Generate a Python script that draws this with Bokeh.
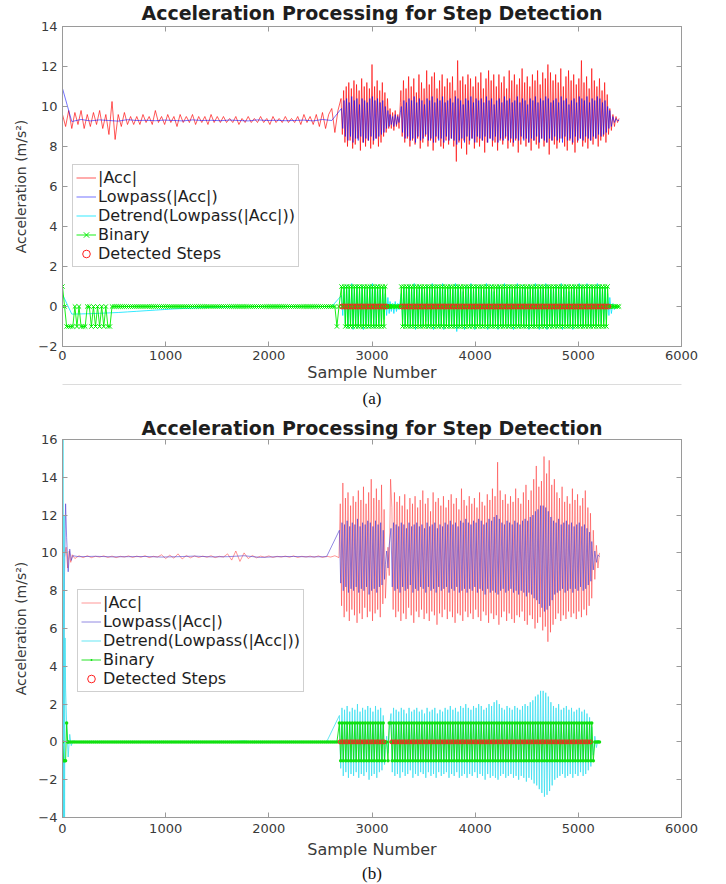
import numpy as np
from bokeh.plotting import figure
from bokeh.models import LinearAxis, Legend, LegendItem, FixedTicker, Range1d
from bokeh.layouts import column
from bokeh.embed import file_html
from bokeh.resources import INLINE

# ---------------- data ----------------
x_ticks = [0, 1000, 2000, 3000, 4000, 5000, 6000]
y_ticks_a = [-2, 0, 2, 4, 6, 8, 10, 12, 14]
y_ticks_b = [-4, -2, 0, 2, 4, 6, 8, 10, 12, 14, 16]
labels = ["|Acc|", "Lowpass(|Acc|)", "Detrend(Lowpass(|Acc|))", "Binary", "Detected Steps"]

# ---- panel (a) ----
# standing part, |Acc| every 30 samples from 0
acc_a_rest = [9.6, 9.0, 9.8, 8.9, 9.7, 9.1, 9.8, 8.9, 9.6, 9.0, 9.7, 9.1, 9.8, 8.9, 9.6, 8.6, 10.25, 8.35, 9.6, 9.0, 9.7, 9.1, 9.5, 9.1,
              9.5, 9.1, 9.6, 9.2, 9.5, 9.1, 9.8, 9.2, 9.5, 9.1, 9.6, 9.2, 9.5, 9.0, 9.6, 9.2, 9.5, 9.2, 9.6, 9.1, 9.5, 9.2, 9.5, 9.1, 9.6, 9.2, 9.5,
              9.2, 9.5, 9.2, 9.4, 9.2, 9.5, 9.1, 9.4, 9.2, 9.5, 9.2, 9.4, 9.2, 9.5, 9.2, 9.4, 9.1, 9.5, 9.2, 9.4, 9.2, 9.5, 9.2, 9.4, 9.2, 9.5, 9.1, 9.6, 9.2, 9.5,
              9.1, 9.6, 9.0, 9.7, 8.9, 9.6, 9.9, 8.7, 9.8]
# lowpass and detrend every 90 samples from 0
low_a_rest = [10.9, 9.25, 9.35, 9.28, 9.33, 9.3, 9.27, 9.34, 9.3, 9.31, 9.29, 9.32, 9.3, 9.28, 9.33,
              9.3, 9.31, 9.29, 9.32, 9.3, 9.28, 9.33, 9.3, 9.31, 9.29, 9.3, 9.32, 9.28, 9.35, 9.3]
det_a_rest = [0.6, -0.38, -0.37, -0.36, -0.34, -0.32, -0.30, -0.27, -0.24, -0.21, -0.18, -0.15, -0.12, -0.10, -0.08,
              -0.06, -0.04, -0.03, -0.02, -0.01, 0.0, 0.0, 0.0, 0.0, 0.0, 0.0, 0.0, 0.0, 0.0, 0.0]
# binary at start, every 20 samples from 0 (then 0 until the -1 blip at 2660)
bin_a_start = [1, 0, -1, -1, -1, -1, 0, -1, 0, -1, -1, -1, 0, 0, -1, 0, -1, 0, -1, 0, -1, 0, -1, -1, 0]
bin_a_blip = [-1, 0]
trend_a = 9.35
# walking: (first step sample, samples per step, steps)
walk_a = [(2700, 25, 19), (3280, 25, 81)]
acc_a_peaks = [
    [10.4, 10.8, 11.0, 11.2, 10.9, 11.3, 11.1, 10.8, 11.4, 11.0, 11.2, 10.9, 12.1, 11.0, 11.3, 10.8, 11.2, 10.7, 10.4],
    [10.8, 11.3, 10.9, 11.5, 11.0, 11.4, 10.7, 11.6, 11.2, 10.9,
     11.8, 11.1, 11.5, 11.7, 10.9, 11.3, 11.6, 11.0, 11.4, 11.2,
     11.5, 10.8, 12.3, 11.3, 11.5, 11.1, 11.6, 11.4, 11.0, 11.5,
     11.2, 11.7, 10.9, 11.4, 11.8, 11.3, 11.6, 11.0, 11.6, 11.2,
     11.5, 10.9, 11.8, 11.3, 11.6, 11.1, 11.4, 11.9, 11.2, 11.5,
     11.0, 11.6, 11.3, 11.8, 11.1, 11.7, 11.4, 12.1, 11.7, 11.3,
     11.6, 11.2, 11.9, 11.0, 11.5, 11.8, 11.3, 11.6, 11.1, 11.4,
     12.3, 11.2, 11.5, 10.9, 11.9, 11.3, 11.0, 11.4, 10.8, 11.2, 10.6]]
acc_a_troughs = [
    [8.6, 8.2, 8.0, 8.3, 7.9, 8.1, 8.4, 7.8, 8.2, 8.0, 8.3, 7.9, 8.1, 8.4, 8.0, 8.2, 8.5, 8.7, 8.9],
    [8.5, 8.2, 8.4, 8.0, 8.3, 8.1, 8.4, 7.9, 8.2, 8.5,
     8.0, 8.3, 7.8, 8.2, 8.4, 8.0, 7.9, 8.3, 8.1, 8.4,
     8.0, 7.25, 8.2, 7.9, 8.3, 7.6, 8.1, 8.4, 7.9, 8.2,
     8.0, 8.3, 7.7, 8.2, 8.4, 8.0, 8.2, 7.8, 8.3, 8.1,
     8.4, 7.9, 8.2, 8.0, 8.3, 7.7, 8.1, 8.4, 8.0, 8.2,
     7.8, 8.3, 8.1, 7.9, 8.4, 8.0, 8.2, 7.6, 8.3, 8.1,
     7.9, 8.2, 8.4, 8.0, 7.8, 8.3, 8.1, 7.7, 8.2, 8.4,
     8.0, 8.2, 7.9, 8.3, 8.1, 8.4, 8.0, 8.3, 8.5, 8.2, 8.6]]
low_a_peaks = [
    [9.9, 10.3, 10.4, 10.2, 10.5, 10.3, 10.4, 10.1, 10.4, 10.3, 10.2, 10.4, 10.5, 10.3, 10.4, 10.2, 10.3, 10.0, 9.8],
    [10.0, 10.3, 10.2, 10.4, 10.3, 10.5, 10.2, 10.4, 10.3, 10.1,
     10.4, 10.3, 10.5, 10.2, 10.4, 10.3, 10.5, 10.2, 10.3, 10.4,
     10.2, 10.5, 10.4, 10.3, 10.1, 10.4, 10.3, 10.5, 10.2, 10.4,
     10.3, 10.4, 10.2, 10.5, 10.3, 10.4, 10.1, 10.3, 10.4, 10.2,
     10.5, 10.3, 10.4, 10.2, 10.3, 10.5, 10.2, 10.4, 10.3, 10.1,
     10.4, 10.3, 10.5, 10.2, 10.4, 10.3, 10.5, 10.4, 10.2, 10.3,
     10.4, 10.2, 10.5, 10.3, 10.4, 10.1, 10.3, 10.4, 10.2, 10.5,
     10.4, 10.3, 10.5, 10.2, 10.4, 10.3, 10.5, 10.4, 10.2, 10.3, 10.0]]
low_a_troughs = [
    [8.9, 8.5, 8.3, 8.5, 8.2, 8.4, 8.3, 8.5, 8.2, 8.4, 8.3, 8.5, 8.3, 8.4, 8.5, 8.6, 8.7, 8.9, 9.0],
    [8.7, 8.4, 8.5, 8.3, 8.4, 8.2, 8.5, 8.3, 8.4, 8.6,
     8.3, 8.4, 8.2, 8.5, 8.3, 8.4, 8.2, 8.5, 8.3, 8.4,
     8.3, 8.1, 8.3, 8.4, 8.2, 8.5, 8.3, 8.4, 8.2, 8.5,
     8.4, 8.3, 8.5, 8.2, 8.4, 8.3, 8.5, 8.2, 8.4, 8.3,
     8.5, 8.3, 8.4, 8.2, 8.4, 8.3, 8.5, 8.3, 8.4, 8.2,
     8.4, 8.3, 8.5, 8.2, 8.4, 8.3, 8.2, 8.4, 8.3, 8.5,
     8.3, 8.4, 8.2, 8.5, 8.3, 8.4, 8.2, 8.5, 8.3, 8.4,
     8.3, 8.5, 8.4, 8.3, 8.5, 8.4, 8.6, 8.5, 8.6, 8.7, 8.9]]
pause_a_x = [3175, 3187, 3200, 3212, 3225, 3237, 3250, 3262, 3275]
acc_a_pause = [9.9, 8.9, 9.7, 8.8, 9.8, 9.0, 9.6, 8.9, 10.2]
low_a_pause = [9.6, 9.1, 9.5, 9.0, 9.6, 9.1, 9.5, 9.2, 9.7]
end_a_x = [5305, 5320, 5335, 5350, 5365, 5380, 5395]
acc_a_end = [9.9, 8.8, 9.6, 9.0, 9.5, 9.2, 9.4]
low_a_end = [9.8, 9.0, 9.5, 9.2, 9.4, 9.3, 9.3]

# ---- panel (b) ----
acc_b_start_x = [20, 35, 50, 65, 80, 95]
acc_b_start = [9.8, 10.3, 9.2, 10.1, 9.5, 9.9]
# then every 40 samples from 120
acc_b_rest = [9.7, 9.85, 9.75, 9.85, 9.75, 9.82, 9.78, 9.84, 9.76, 9.83,
              9.75, 9.82, 9.78, 9.84, 9.76, 9.83, 9.77, 9.85, 9.75, 9.82,
              9.78, 9.9, 9.7, 9.88, 9.72, 9.95, 9.68, 9.86, 9.74, 9.84,
              9.76, 9.83, 9.77, 9.85, 9.75, 9.82, 9.78, 9.95, 9.62, 10.1,
              9.55, 10.0, 9.7, 9.86, 9.74, 9.83, 9.77, 9.84, 9.76, 9.82,
              9.78, 9.83, 9.77, 9.84, 9.76, 9.82, 9.78, 9.83, 9.77, 9.84,
              9.76, 9.82, 9.78, 9.85, 9.75]
low_b_start_x = [0, 10, 20, 30, 40, 55, 70, 85, 100]
low_b_start = [0.5, 4.0, 9.0, 12.6, 10.8, 9.0, 10.2, 9.6, 9.85]
# then every 160 samples from 160
low_b_rest = [9.8, 9.82, 9.79, 9.8, 9.81, 9.78, 9.8, 9.83, 9.79, 9.8, 9.85, 9.76, 9.8, 9.81, 9.79, 9.8]
det_b_start_x = [0, 5, 10, 15, 20, 25, 30, 40, 55, 70, 85, 100]
det_b_start = [-9.8, 17.0, -6.0, 12.0, -4.5, 5.5, 2.8, 1.0, -0.8, 0.4, -0.2, 0.05]
bin_b_start_x = [0, 10, 20, 30, 40, 50]
bin_b_start = [0, -1, -1, -1, 1, 0]
trend_b = 9.8
walk_b = [(2680, 25, 18), (3180, 25, 78)]
acc_b_peaks = [
    [12.6, 13.7, 12.9, 13.2, 12.5, 13.0, 12.7, 13.3, 12.8, 13.5, 12.6, 13.2, 13.9, 12.9, 13.4, 12.8, 13.6, 12.3],
    [12.4, 13.2, 12.7, 13.0, 12.5, 13.1, 12.3, 12.9, 12.6, 13.0,
     12.4, 12.8, 13.3, 12.6, 12.9, 12.2, 13.2, 12.7, 12.9, 12.5,
     13.0, 12.4, 12.8, 13.1, 12.6, 12.9, 12.3, 13.4, 12.8, 12.5,
     13.0, 12.6, 12.9, 12.4, 13.2, 12.7, 12.5, 13.1, 12.8, 13.4,
     13.0, 14.8, 13.3, 12.8, 13.1, 12.6, 13.0, 12.7, 13.4, 12.9,
     12.6, 13.2, 13.6, 12.8, 13.3, 13.9, 14.6, 13.5, 13.8, 15.1,
     14.2, 14.9, 13.6, 13.9, 13.2, 12.9, 13.5, 12.7, 13.0, 12.6,
     13.4, 12.8, 13.1, 12.5, 12.9, 13.3, 12.4, 12.1]]
acc_b_troughs = [
    [7.2, 6.6, 6.9, 6.4, 7.0, 6.7, 6.3, 6.8, 6.5, 7.1, 6.6, 6.9, 6.4, 6.8, 7.0, 6.6, 7.3, 7.6],
    [7.0, 6.6, 6.9, 6.4, 6.8, 6.5, 7.1, 6.7, 6.3, 6.9,
     6.6, 7.0, 6.5, 6.8, 6.4, 6.9, 6.7, 6.2, 6.8, 6.6,
     7.0, 6.5, 6.9, 6.6, 6.3, 6.8, 6.7, 6.4, 6.9, 6.6,
     6.8, 6.5, 7.0, 6.6, 6.4, 6.9, 6.7, 6.3, 6.8, 6.5,
     6.7, 6.2, 6.6, 6.9, 6.4, 6.8, 6.5, 6.3, 6.7, 6.6,
     6.9, 6.4, 6.2, 6.7, 6.5, 6.0, 6.3, 6.6, 5.9, 6.1,
     5.3, 5.8, 6.2, 6.5, 6.8, 6.4, 6.7, 6.5, 6.9, 6.6,
     6.8, 6.5, 6.9, 6.6, 7.0, 6.7, 7.2, 7.6]]
low_b_peaks = [
    [11.2, 11.6, 11.5, 11.7, 11.4, 11.6, 11.5, 11.8, 11.4, 11.6, 11.5, 11.7, 11.6, 11.4, 11.7, 11.5, 11.6, 11.2],
    [11.3, 11.6, 11.5, 11.4, 11.6, 11.5, 11.3, 11.6, 11.4, 11.5,
     11.6, 11.4, 11.5, 11.3, 11.6, 11.4, 11.5, 11.6, 11.3, 11.5,
     11.4, 11.6, 11.5, 11.7, 11.5, 11.6, 11.4, 11.7, 11.6, 11.8,
     11.6, 11.5, 11.7, 11.6, 11.8, 11.7, 11.5, 11.6, 11.8, 11.7,
     11.9, 12.0, 11.8, 11.6, 11.5, 11.7, 11.6, 11.5, 11.7, 11.6,
     11.5, 11.7, 11.8, 11.7, 11.9, 12.0, 12.2, 12.3, 12.5, 12.5,
     12.4, 12.2, 11.9, 11.7, 11.6, 11.8, 11.5, 11.6, 11.7, 11.5,
     11.6, 11.4, 11.5, 11.6, 11.4, 11.5, 11.3, 11.1]]
low_b_troughs = [
    [8.4, 8.0, 8.2, 7.9, 8.1, 8.0, 8.2, 7.9, 8.1, 8.0, 8.2, 7.8, 8.0, 8.1, 7.9, 8.2, 8.3, 8.6],
    [8.2, 8.0, 8.1, 7.9, 8.2, 8.0, 8.1, 8.3, 7.9, 8.1,
     8.0, 8.2, 8.1, 7.9, 8.2, 8.0, 8.1, 7.9, 8.2, 8.0,
     8.1, 8.2, 7.9, 8.1, 8.0, 8.2, 7.9, 8.0, 8.1, 7.9,
     8.1, 8.0, 8.2, 7.9, 8.1, 8.0, 7.8, 8.1, 7.9, 8.0,
     7.9, 7.8, 8.0, 8.1, 7.9, 8.0, 8.1, 7.9, 8.0, 7.8,
     8.0, 7.9, 7.7, 7.9, 7.8, 7.6, 7.5, 7.3, 7.1, 6.9,
     7.0, 7.2, 7.5, 7.8, 7.9, 8.0, 8.1, 7.9, 8.0, 8.1,
     7.9, 8.1, 8.0, 8.2, 8.0, 8.1, 8.3, 8.5]]
pause_b_x = [3130, 3142, 3155, 3167]
acc_b_pause = [9.0, 10.3, 8.8, 13.9]
low_b_pause = [9.4, 10.1, 9.2, 10.4]
end_b_x = [5130, 5145, 5160, 5175, 5190, 5205]
acc_b_end = [11.2, 8.6, 10.4, 9.2, 10.0, 9.8]
low_b_end = [10.6, 9.1, 10.1, 9.5, 9.9, 9.8]

# ---------------- helpers ----------------
def walk_xy(seg, peaks, troughs, offset=0.0):
    s, T, n = seg
    xs, ys = [], []
    for i in range(n):
        xs += [s + i * T + offset, s + i * T + T / 2 + offset]
        ys += [peaks[i], troughs[i]]
    return xs, ys

def binary_of(v, thr=0.5):
    return 1 if v > thr else (-1 if v < -thr else 0)

def walk_binary(seg, dpk, dtr, offset=0.0):
    s, T, n = seg
    xs, ys, sx = [], [], []
    for i in range(n):
        xp = s + i * T + offset
        xt = xp + T / 2
        xs += [xp, xp + T / 4, xt, xt + T / 4]
        ys += [binary_of(dpk[i]), 0, binary_of(dtr[i]), 0]
        if binary_of(dpk[i]) == 1:
            sx.append(xp + T / 4)
    return xs, ys, sx

def assemble(rest_x, rest_y, walk, peaks, troughs, pause_x, pause_y, end_x, end_y, offset=0.0):
    x1, y1 = walk_xy(walk[0], peaks[0], troughs[0], offset)
    x2, y2 = walk_xy(walk[1], peaks[1], troughs[1], offset)
    xs = list(rest_x) + x1 + list(pause_x) + x2 + list(end_x)
    ys = list(rest_y) + y1 + list(pause_y) + y2 + list(end_y)
    return xs, ys

# ---------------- series for (a) ----------------
ax_acc, ay_acc = assemble(np.arange(0, 2700, 30), acc_a_rest, walk_a, acc_a_peaks, acc_a_troughs,
                          pause_a_x, acc_a_pause, end_a_x, acc_a_end)
ax_low, ay_low = assemble(np.arange(0, 2700, 90), low_a_rest, walk_a, low_a_peaks, low_a_troughs,
                          pause_a_x, low_a_pause, end_a_x, low_a_end, offset=4)
det_a_pk = [[v - trend_a for v in seg] for seg in low_a_peaks]
det_a_tr = [[v - trend_a for v in seg] for seg in low_a_troughs]
ax_det, ay_det = assemble(np.arange(0, 2700, 90), det_a_rest, walk_a, det_a_pk, det_a_tr,
                          pause_a_x, [v - trend_a for v in low_a_pause], end_a_x,
                          [v - trend_a for v in low_a_end], offset=4)
rest_bin_x = list(np.arange(0, 2700, 20))
rest_bin_a = bin_a_start + [0] * (len(rest_bin_x) - len(bin_a_start) - len(bin_a_blip)) + bin_a_blip
bx1, by1, sx1 = walk_binary(walk_a[0], det_a_pk[0], det_a_tr[0], 4)
bx2, by2, sx2 = walk_binary(walk_a[1], det_a_pk[1], det_a_tr[1], 4)
ax_bin = rest_bin_x + bx1 + list(pause_a_x) + bx2 + list(end_a_x)
ay_bin = rest_bin_a + by1 + [binary_of(v - trend_a) for v in low_a_pause] + by2 + \
    [binary_of(v - trend_a) for v in low_a_end]
ax_steps = sx1 + sx2
ay_steps = [0] * len(ax_steps)

# ---------------- series for (b) ----------------
bx_acc, by_acc = assemble(acc_b_start_x + list(np.arange(120, 2680, 40)), acc_b_start + acc_b_rest,
                          walk_b, acc_b_peaks, acc_b_troughs, pause_b_x, acc_b_pause, end_b_x, acc_b_end)
b_low_rest_x = low_b_start_x + list(np.arange(160, 2680, 160))
bx_low, by_low = assemble(b_low_rest_x, low_b_start + low_b_rest, walk_b, low_b_peaks, low_b_troughs,
                          pause_b_x, low_b_pause, end_b_x, low_b_end, offset=4)
det_b_pk = [[v - trend_b for v in seg] for seg in low_b_peaks]
det_b_tr = [[v - trend_b for v in seg] for seg in low_b_troughs]
bx_det, by_det = assemble(det_b_start_x + list(np.arange(160, 2680, 160)),
                          det_b_start + [v - trend_b for v in low_b_rest], walk_b, det_b_pk, det_b_tr,
                          pause_b_x, [v - trend_b for v in low_b_pause], end_b_x,
                          [v - trend_b for v in low_b_end], offset=4)
b_rest_bin_x = bin_b_start_x + list(np.arange(60, 2680, 20))
b_rest_bin = bin_b_start + [0] * (len(b_rest_bin_x) - len(bin_b_start))
cx1, cy1, tx1 = walk_binary(walk_b[0], det_b_pk[0], det_b_tr[0], 4)
cx2, cy2, tx2 = walk_binary(walk_b[1], det_b_pk[1], det_b_tr[1], 4)
bx_bin = b_rest_bin_x + cx1 + list(pause_b_x) + cx2 + list(end_b_x)
by_bin = b_rest_bin + cy1 + [binary_of(v - trend_b) for v in low_b_pause] + cy2 + \
    [binary_of(v - trend_b) for v in low_b_end]
bx_steps = tx1 + tx2
by_steps = [0] * len(bx_steps)

# ---------------- drawing ----------------
FONT = "DejaVu Sans"
AX = "#9a9a9a"
TXT = "#3a3a3a"

def make_panel(title, ylo, yhi, yticks, frame_h, min_top, min_bottom, title_standoff, title_valign,
               lab_standoff, axlab_standoff, sub, sub_line, sub_standoff):
    p = figure(frame_width=619, frame_height=frame_h, x_range=Range1d(0, 6000), y_range=Range1d(ylo, yhi),
               output_backend="svg", toolbar_location=None, title=title,
               min_border_left=62, min_border_right=45, min_border_top=min_top, min_border_bottom=min_bottom,
               background_fill_color="white", border_fill_color="white", outline_line_color=AX)
    p.xgrid.visible = False
    p.ygrid.visible = False
    p.title.align = "center"
    p.title.vertical_align = title_valign
    p.title.text_font = FONT
    p.title.text_font_size = "19px"
    p.title.text_font_style = "bold"
    p.title.text_color = "#1e1e1e"
    p.title.standoff = title_standoff
    xa, ya = p.xaxis[0], p.yaxis[0]
    xa.ticker = FixedTicker(ticks=x_ticks)
    ya.ticker = FixedTicker(ticks=yticks)
    xa.axis_label = "Sample Number"
    ya.axis_label = "Acceleration (m/s\u00b2)"
    for a in (xa, ya):
        a.axis_line_color = AX
        a.major_tick_line_color = AX
        a.major_tick_in = 5
        a.major_tick_out = 0
        a.minor_tick_line_color = None
        a.major_label_text_font = FONT
        a.major_label_text_font_size = "13px"
        a.major_label_text_color = TXT
        a.axis_label_text_font = FONT
        a.axis_label_text_font_style = "normal"
        a.axis_label_text_color = TXT
    xa.axis_label_text_font_size = "16px"
    ya.axis_label_text_font_size = "14px"
    xa.major_label_standoff = lab_standoff
    xa.axis_label_standoff = axlab_standoff
    ya.major_label_standoff = 5
    ya.axis_label_standoff = 6
    # box ticks on top and right: drawn as (label-free) minor ticks
    top = LinearAxis(ticker=FixedTicker(ticks=[], minor_ticks=x_ticks),
                     axis_line_color=AX, major_tick_line_color=None,
                     minor_tick_line_color=AX, minor_tick_in=5, minor_tick_out=0)
    right = LinearAxis(ticker=FixedTicker(ticks=[], minor_ticks=yticks),
                       axis_line_color=AX, major_tick_line_color=None,
                       minor_tick_line_color=AX, minor_tick_in=5, minor_tick_out=0)
    p.add_layout(top, "above")
    p.add_layout(right, "right")
    capt = LinearAxis(ticker=FixedTicker(ticks=[]), axis_label=sub,
                      axis_line_color=sub_line, major_tick_line_color=None, minor_tick_line_color=None,
                      axis_label_text_font="Liberation Serif", axis_label_text_font_size="17px",
                      axis_label_text_font_style="normal", axis_label_text_color="#111111",
                      axis_label_standoff=sub_standoff)
    p.add_layout(capt, "below")
    return p

def draw(p, series, marker, marker_size, step_size, colors, alphas, leg_loc):
    (x_acc, y_acc), (x_low, y_low), (x_det, y_det), (x_bin, y_bin), (x_st, y_st) = series
    r1 = p.line(x_acc, y_acc, line_color=colors[0], line_alpha=alphas[0], line_width=1)
    r2 = p.line(x_low, y_low, line_color=colors[1], line_alpha=alphas[1], line_width=1)
    r3 = p.line(x_det, y_det, line_color=colors[2], line_alpha=alphas[2], line_width=1)
    r4 = p.line(x_bin, y_bin, line_color=colors[3], line_alpha=alphas[3], line_width=1)
    if marker == "x":
        r4m = p.scatter(x_bin, y_bin, marker="x", size=marker_size, line_color=colors[3], line_width=1)
    else:
        r4m = p.scatter(x_bin, y_bin, marker="dot", size=marker_size, line_color=colors[3],
                        fill_color=colors[3], line_width=1)
    r5 = p.scatter(x_st, y_st, marker="circle", size=step_size, fill_color=None, line_color="#ff2020",
                   line_width=1)
    legend = Legend(items=[LegendItem(label=labels[0], renderers=[r1]),
                           LegendItem(label=labels[1], renderers=[r2]),
                           LegendItem(label=labels[2], renderers=[r3]),
                           LegendItem(label=labels[3], renderers=[r4, r4m]),
                           LegendItem(label=labels[4], renderers=[r5])],
                    location=leg_loc)
    legend.label_text_font = FONT
    legend.label_text_font_size = "16px"
    legend.label_text_color = "#1e1e1e"
    legend.label_height = 19
    legend.glyph_height = 19
    legend.glyph_width = 20
    legend.label_standoff = 2
    legend.padding = 3
    legend.spacing = 0
    legend.margin = 0
    legend.border_line_color = "#a0a0a0"
    legend.background_fill_alpha = 1.0
    p.add_layout(legend)

pa = make_panel("Acceleration Processing for Step Detection", -2, 14, y_ticks_a, 320, 26, 62, 2, "top",
                4, 0, "(a)", "#dcdcdc", 4)
draw(pa, [(ax_acc, ay_acc), (ax_low, ay_low), (ax_det, ay_det), (ax_bin, ay_bin), (ax_steps, ay_steps)],
     "x", 6, 5, ["#ff0000", "#0000ff", "#00e5ff", "#00ee00"], [0.65, 0.55, 0.8, 0.9], (10, 79))

pb = make_panel("Acceleration Processing for Step Detection", -4, 16, y_ticks_b, 378, 29, 58, 0, "middle",
                6, 4, "(b)", None, 2)
draw(pb, [(bx_acc, by_acc), (bx_low, by_low), (bx_det, by_det), (bx_bin, by_bin), (bx_steps, by_steps)],
     "dot", 14, 4, ["#ff3030", "#4b3cd0", "#40e0f0", "#10e010"], [0.5, 0.6, 0.8, 0.9], (15, 125))

layout = column(pa, pb, spacing=0)
open("out.html", "w").write(file_html(layout, INLINE))
